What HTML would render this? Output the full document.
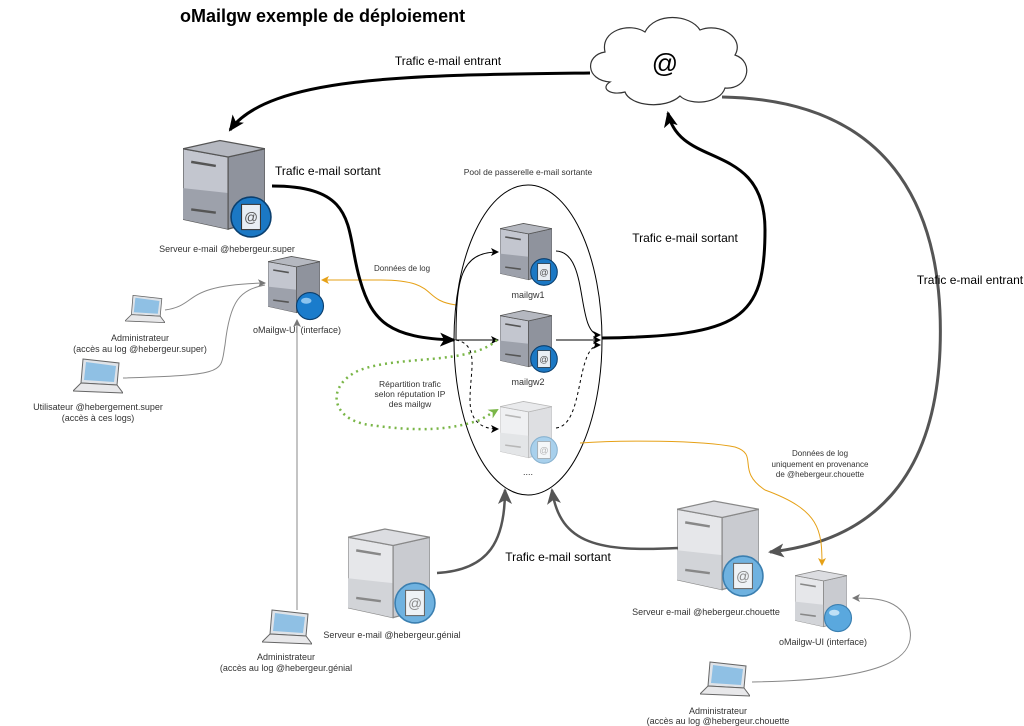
<!DOCTYPE html>
<html><head><meta charset="utf-8"><style>
body{margin:0;background:#fff;}
svg{display:block;font-family:"Liberation Sans",sans-serif;}
</style></head><body>
<svg width="1024" height="726" viewBox="0 0 1024 726" xmlns="http://www.w3.org/2000/svg">
<defs>
<symbol id="srvD" viewBox="0 0 100 110">
<polygon points="0,12 55,22 55,110 0,98" fill="#c3c6cf" stroke="#555" stroke-width="1.5"/>
<polygon points="0,60 55,66 55,110 0,98" fill="#9da1ab"/>
<polygon points="55,22 100,12 100,98 55,110" fill="#8f939d" stroke="#555" stroke-width="1.5"/>
<polygon points="0,12 45,2 100,12 55,22" fill="#b5b8c0" stroke="#555" stroke-width="1.5"/>
<line x1="10" y1="28" x2="40" y2="33" stroke="#555" stroke-width="3"/>
<line x1="10" y1="86" x2="40" y2="90" stroke="#555" stroke-width="3"/>
</symbol>
<symbol id="srvL" viewBox="0 0 100 110">
<polygon points="0,12 55,22 55,110 0,98" fill="#e6e7ea" stroke="#888" stroke-width="1.5"/>
<polygon points="0,62 55,68 55,110 0,98" fill="#d2d4d8"/>
<polygon points="55,22 100,12 100,98 55,110" fill="#c9cbd0" stroke="#888" stroke-width="1.5"/>
<polygon points="0,12 45,2 100,12 55,22" fill="#dcdde1" stroke="#888" stroke-width="1.5"/>
<line x1="10" y1="28" x2="40" y2="33" stroke="#888" stroke-width="3"/>
<line x1="10" y1="86" x2="40" y2="90" stroke="#888" stroke-width="3"/>
</symbol>
<symbol id="mail" viewBox="0 0 40 40">
<circle cx="20" cy="20" r="19" fill="#1b78c4" stroke="#0b3f6e" stroke-width="1.5"/>
<rect x="11" y="8" width="18" height="24" fill="#e8eef4" stroke="#333"/>
<text x="20" y="25" font-size="13" text-anchor="middle" fill="#555">@</text>
</symbol>
<symbol id="mailL" viewBox="0 0 40 40">
<circle cx="20" cy="20" r="19" fill="#6fb2e0" stroke="#3b7fb0" stroke-width="1.5"/>
<rect x="11" y="8" width="18" height="24" fill="#eef2f6" stroke="#666"/>
<text x="20" y="25" font-size="13" text-anchor="middle" fill="#888">@</text>
</symbol>
<symbol id="globe" viewBox="0 0 40 40">
<circle cx="20" cy="20" r="18" fill="#1a7ccc" stroke="#0b3f6e" stroke-width="1.5"/>
<ellipse cx="15" cy="13" rx="7" ry="4" fill="#8cc4ef"/>
</symbol>
<symbol id="globeL" viewBox="0 0 40 40">
<circle cx="20" cy="20" r="18" fill="#5aa8de" stroke="#3b7fb0" stroke-width="1.5"/>
<ellipse cx="15" cy="13" rx="7" ry="4" fill="#bfe0f6"/>
</symbol>
<symbol id="laptop" viewBox="0 0 50 38">
<polygon points="10,2 46,6 44,28 8,26" fill="#dfe3e8" stroke="#666"/>
<polygon points="13,5 43,9 41,25 11,23" fill="#8fc0e4"/>
<polygon points="8,26 44,28 50,36 0,34" fill="#e8e8ea" stroke="#666"/>
</symbol>
<marker id="ah" markerWidth="8" markerHeight="8" refX="7" refY="4" orient="auto" markerUnits="userSpaceOnUse"><path d="M0,0 L8,4 L0,8 L2,4z" fill="#000"/></marker>
<marker id="ahB" markerWidth="16" markerHeight="14" refX="14" refY="7" orient="auto" markerUnits="userSpaceOnUse"><path d="M0,0 L16,7 L0,14 L4,7z" fill="#000"/></marker>
<marker id="ahG" markerWidth="16" markerHeight="14" refX="14" refY="7" orient="auto" markerUnits="userSpaceOnUse"><path d="M0,0 L16,7 L0,14 L4,7z" fill="#555"/></marker>
<marker id="ahg" markerWidth="8" markerHeight="8" refX="7" refY="4" orient="auto" markerUnits="userSpaceOnUse"><path d="M0,0 L8,4 L0,8 L2,4z" fill="#777"/></marker>
<marker id="ahO" markerWidth="8" markerHeight="8" refX="7" refY="4" orient="auto" markerUnits="userSpaceOnUse"><path d="M0,0 L8,4 L0,8 L2,4z" fill="#e6a117"/></marker>
<marker id="ahV" markerWidth="10" markerHeight="10" refX="8" refY="5" orient="auto" markerUnits="userSpaceOnUse"><path d="M0,0 L10,5 L0,10 L3,5z" fill="#7ab648"/></marker>
</defs>

<text x="180" y="22" font-size="18" font-weight="bold">oMailgw exemple de déploiement</text>

<!-- cloud -->
<path d="M610,82 C585,80 585,55 605,52 C600,30 630,22 645,32 C655,12 690,14 700,30 C720,22 745,38 735,55 C755,62 748,90 725,88 C720,104 690,106 680,96 C665,110 630,106 625,92 C610,96 600,88 610,82 Z" fill="#fff" stroke="#333" stroke-width="1.2"/>
<text x="665" y="72" font-size="26" text-anchor="middle">@</text>

<!-- incoming to super -->
<path d="M590,73 C420,75 270,75 230,130" fill="none" stroke="#000" stroke-width="3" marker-end="url(#ahB)"/>
<text x="448" y="65" font-size="12" text-anchor="middle">Trafic e-mail entrant</text>

<!-- server super -->
<use href="#srvD" x="183" y="138" width="82" height="92"/>
<use href="#mail" x="230" y="196" width="42" height="42"/>
<text x="227" y="252" font-size="9" text-anchor="middle" fill="#333">Serveur e-mail @hebergeur.super</text>
<text x="275" y="175" font-size="12">Trafic e-mail sortant</text>

<!-- UI super -->
<use href="#srvD" x="268" y="252" width="52" height="64"/>
<use href="#globe" x="295" y="291" width="30" height="30"/>
<text x="297" y="333" font-size="9" text-anchor="middle" fill="#333">oMailgw-UI (interface)</text>

<!-- laptops super -->
<use href="#laptop" x="125" y="290" width="40" height="38"/>
<text x="140" y="341" font-size="9" text-anchor="middle" fill="#333">Administrateur</text>
<text x="140" y="352" font-size="9" text-anchor="middle" fill="#333">(accès au log @hebergeur.super)</text>
<use href="#laptop" x="73" y="357" width="50" height="38"/>
<text x="98" y="410" font-size="9" text-anchor="middle" fill="#333">Utilisateur  @hebergement.super</text>
<text x="98" y="421" font-size="9" text-anchor="middle" fill="#333">(accès à ces logs)</text>
<path d="M165,310 C200,305 180,285 265,283" fill="none" stroke="#888" stroke-width="1" marker-end="url(#ahg)"/>
<path d="M123,378 C230,375 220,372 225,345 C230,300 240,290 265,285" fill="none" stroke="#888" stroke-width="1"/>
<path d="M297,610 L297,320" fill="none" stroke="#888" stroke-width="1" marker-end="url(#ahg)"/>

<!-- log data orange -->
<path d="M456,305 C420,300 440,280 380,280 L322,280" fill="none" stroke="#e6a117" stroke-width="1" marker-end="url(#ahO)"/>
<text x="402" y="271" font-size="8" text-anchor="middle" fill="#333">Données de log</text>

<!-- thick outgoing -->
<path d="M272,186 C360,186 345,230 360,280 C372,322 390,338 454,340" fill="none" stroke="#000" stroke-width="3" marker-end="url(#ahB)"/>

<!-- ellipse -->
<ellipse cx="528" cy="340" rx="74" ry="155" fill="none" stroke="#000" stroke-width="1"/>
<text x="528" y="175" font-size="8.5" text-anchor="middle" fill="#333">Pool de passerelle e-mail sortante</text>

<!-- mailgws -->
<use href="#srvD" x="500" y="220" width="52" height="62"/>
<use href="#mail" x="530" y="258" width="28" height="28"/>
<text x="528" y="298" font-size="9" text-anchor="middle" fill="#333">mailgw1</text>
<use href="#srvD" x="500" y="307" width="52" height="62"/>
<use href="#mail" x="530" y="345" width="28" height="28"/>
<text x="528" y="385" font-size="9" text-anchor="middle" fill="#333">mailgw2</text>
<g opacity="0.6">
<use href="#srvL" x="500" y="398" width="52" height="62"/>
<use href="#mailL" x="530" y="436" width="28" height="28"/>
</g>
<text x="528" y="475" font-size="9" text-anchor="middle" fill="#333">....</text>

<!-- inner arrows -->
<path d="M456,340 C456,280 460,252 498,252" fill="none" stroke="#000" stroke-width="1" marker-end="url(#ah)"/>
<path d="M456,340 L498,340" fill="none" stroke="#000" stroke-width="1" marker-end="url(#ah)"/>
<path d="M456,340 C480,345 470,370 470,400 C470,420 480,429 498,429" fill="none" stroke="#000" stroke-width="1" stroke-dasharray="3,3" marker-end="url(#ah)"/>
<path d="M556,251 C590,252 575,335 600,335" fill="none" stroke="#000" stroke-width="1" marker-end="url(#ah)"/>
<path d="M556,340 L600,340" fill="none" stroke="#000" stroke-width="1" marker-end="url(#ah)"/>
<path d="M556,428 C585,425 575,345 600,345" fill="none" stroke="#000" stroke-width="1" stroke-dasharray="3,3" marker-end="url(#ah)"/>

<!-- green dotted -->
<path d="M497,340 C470,365 400,355 360,370 C325,385 330,420 370,425 C420,432 450,430 480,420 L497,410" fill="none" stroke="#7ab648" stroke-width="2.5" stroke-dasharray="2,4" marker-end="url(#ahV)"/>
<text x="410" y="387" font-size="8.5" text-anchor="middle" fill="#333">Répartition trafic</text>
<text x="410" y="397" font-size="8.5" text-anchor="middle" fill="#333">selon réputation IP</text>
<text x="410" y="407" font-size="8.5" text-anchor="middle" fill="#333">des mailgw</text>

<!-- thick out to cloud -->
<path d="M602,338 C740,336 765,320 765,230 C765,140 680,170 668,113" fill="none" stroke="#000" stroke-width="3" marker-end="url(#ahB)"/>
<text x="685" y="242" font-size="12" text-anchor="middle">Trafic e-mail sortant</text>

<!-- gray incoming to chouette -->
<path d="M722,97 C900,100 945,220 940,350 C935,470 880,540 770,552" fill="none" stroke="#555" stroke-width="3" marker-end="url(#ahG)"/>
<text x="970" y="284" font-size="12" text-anchor="middle">Trafic e-mail entrant</text>

<!-- génial -->
<use href="#srvL" x="348" y="525" width="82" height="95"/>
<use href="#mailL" x="394" y="582" width="42" height="42"/>
<text x="392" y="638" font-size="9" text-anchor="middle" fill="#333">Serveur e-mail @hebergeur.génial</text>
<path d="M437,573 C490,570 505,540 505,490" fill="none" stroke="#555" stroke-width="2.5" marker-end="url(#ahG)"/>

<!-- chouette -->
<use href="#srvL" x="677" y="497" width="82" height="95"/>
<use href="#mailL" x="722" y="555" width="42" height="42"/>
<text x="706" y="615" font-size="9" text-anchor="middle" fill="#333">Serveur e-mail @hebergeur.chouette</text>
<path d="M678,548 C600,552 560,545 552,490" fill="none" stroke="#555" stroke-width="2.5" marker-end="url(#ahG)"/>
<text x="558" y="561" font-size="12" text-anchor="middle">Trafic e-mail sortant</text>

<!-- UI chouette -->
<use href="#srvL" x="795" y="566" width="52" height="64"/>
<use href="#globeL" x="823" y="603" width="30" height="30"/>
<text x="823" y="645" font-size="9" text-anchor="middle" fill="#333">oMailgw-UI (interface)</text>

<!-- orange log chouette -->
<path d="M580,443 C620,440 700,440 735,447 C760,455 735,470 765,490 C820,510 822,530 822,565" fill="none" stroke="#e6a117" stroke-width="1" marker-end="url(#ahO)"/>
<text x="820" y="456" font-size="8" text-anchor="middle" fill="#333">Données de log</text>
<text x="820" y="467" font-size="8" text-anchor="middle" fill="#333">uniquement en provenance</text>
<text x="820" y="477" font-size="8" text-anchor="middle" fill="#333">de @hebergeur.chouette</text>

<!-- admin génial -->
<use href="#laptop" x="262" y="608" width="50" height="38"/>
<text x="286" y="660" font-size="9" text-anchor="middle" fill="#333">Administrateur</text>
<text x="286" y="671" font-size="9" text-anchor="middle" fill="#333">(accès au log @hebergeur.génial</text>

<!-- admin chouette -->
<use href="#laptop" x="700" y="660" width="50" height="38"/>
<text x="718" y="714" font-size="9" text-anchor="middle" fill="#333">Administrateur</text>
<text x="718" y="724" font-size="9" text-anchor="middle" fill="#333">(accès au log @hebergeur.chouette</text>
<path d="M752,682 C880,680 915,660 910,630 C905,600 880,598 853,598" fill="none" stroke="#888" stroke-width="1" marker-end="url(#ahg)"/>
</svg>
</body></html>
